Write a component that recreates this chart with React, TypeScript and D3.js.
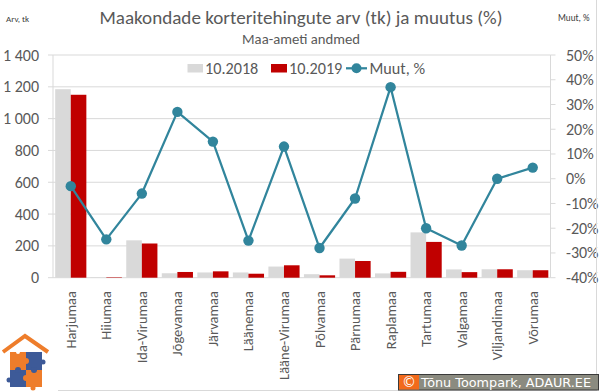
import React from "react";
import { scaleBand, scaleLinear, line, range } from "d3";

// counties (maakonnad)
const categories = [
  "Harjumaa", "Hiiumaa", "Ida-Virumaa", "Jõgevamaa", "Järvamaa", "Läänemaa",
  "Lääne-Virumaa", "Põlvamaa", "Pärnumaa", "Raplamaa", "Tartumaa", "Valgamaa",
  "Viljandimaa", "Võrumaa",
];
// transactions, pcs
const values2018 = [1185, 4, 235, 28, 33, 33, 70, 22, 120, 27, 285, 52, 53, 47];
const values2019 = [1150, 3, 215, 36, 40, 25, 78, 15, 105, 37, 225, 35, 53, 47];
// change, %
const changePct = [-3, -24.5, -6, 27, 15, -25, 13, -28, -8, 37, -20, -27, 0, 4.5];

const leftTicks = [0, 200, 400, 600, 800, 1000, 1200, 1400];
const rightTicks = range(-40, 51, 10);
const seriesNames = ["10.2018", "10.2019", "Muut, %"];

const W = 600;
const H = 392;
const plot = { left: 53, right: 550.5, top: 55, bottom: 277.7 };

const GRAY = "#d9d9d9";
const RED = "#c00000";
const TEAL = "#31859c";
const TXT = "#595959";
const FONT = "Calibri, Carlito, 'Liberation Sans', Arial, sans-serif";

const fmtLeft = (v: number) =>
  v >= 1000 ? `${Math.floor(v / 1000)} ${String(v % 1000).padStart(3, "0")}` : `${v}`;

export default function App() {
  const x = scaleBand<string>().domain(categories).range([plot.left, plot.right]);
  const x1 = scaleBand<string>()
    .domain(["a", "b"])
    .range([0, x.bandwidth()])
    .paddingOuter(0.14);
  const yL = scaleLinear().domain([0, 1400]).range([plot.bottom, plot.top]);
  const yR = scaleLinear().domain([-40, 50]).range([plot.bottom, plot.top]);

  const cx = (c: string) => (x(c) as number) + x.bandwidth() / 2;
  const pts = categories.map((c, i) => [cx(c), yR(changePct[i])] as [number, number]);
  const path = line()(pts) || "";

  return (
    <svg width={W} height={H} style={{ position: "absolute", left: 0, top: 0 }} fontFamily={FONT}>
      <rect x={0} y={0} width={W} height={H} fill="#fff" />

      {/* titles */}
      <text x={301} y={24} textAnchor="middle" fontSize={19.1} fill={TXT}>
        Maakondade korteritehingute arv (tk) ja muutus (%)
      </text>
      <text x={301} y={44} textAnchor="middle" fontSize={14.7} fill={TXT}>
        Maa-ameti andmed
      </text>
      <text x={6} y={22} fontSize={9} fill="#404040">Arv, tk</text>
      <text x={558} y={20.5} fontSize={9.2} fill="#404040">Muut, %</text>

      {/* gridlines + left axis */}
      {leftTicks.map((t) => (
        <g key={t}>
          <line x1={plot.left - 5} x2={plot.right} y1={yL(t)} y2={yL(t)} stroke={GRAY} strokeWidth={1} />
          <text x={39} y={yL(t) + 5.5} textAnchor="end" fontSize={16} fill={TXT}>
            {fmtLeft(t)}
          </text>
        </g>
      ))}
      <line x1={plot.left} x2={plot.left} y1={plot.top} y2={plot.bottom} stroke={GRAY} />
      <line x1={plot.right} x2={plot.right} y1={plot.top} y2={plot.bottom} stroke={GRAY} />

      {/* right axis */}
      {rightTicks.map((t) => (
        <g key={t}>
          <line x1={plot.right} x2={plot.right + 5} y1={yR(t)} y2={yR(t)} stroke={GRAY} />
          <text x={566} y={yR(t) + 5.5} fontSize={16} fill={TXT}>
            {`${t}%`}
          </text>
        </g>
      ))}

      {/* bars */}
      {categories.map((c, i) => (
        <g key={c}>
          <rect
            x={(x(c) as number) + (x1("a") as number)}
            y={yL(values2018[i])}
            width={x1.bandwidth()}
            height={plot.bottom - yL(values2018[i])}
            fill={GRAY}
          />
          <rect
            x={(x(c) as number) + (x1("b") as number)}
            y={yL(values2019[i])}
            width={x1.bandwidth()}
            height={plot.bottom - yL(values2019[i])}
            fill={RED}
          />
        </g>
      ))}

      {/* change line */}
      <path d={path} fill="none" stroke={TEAL} strokeWidth={2.25} strokeLinejoin="round" />
      {pts.map((p, i) => (
        <circle key={i} cx={p[0]} cy={p[1]} r={5.2} fill={TEAL} />
      ))}

      {/* category labels */}
      {categories.map((c) => (
        <text
          key={c}
          transform={`translate(${cx(c)},291) rotate(-90)`}
          textAnchor="end"
          dominantBaseline="central"
          fontSize={14.5}
          fill={TXT}
        >
          {c}
        </text>
      ))}

      {/* legend */}
      <rect x={187.5} y={64} width={15.5} height={8.5} fill={GRAY} />
      <text x={205} y={73.5} fontSize={16.2} fill={TXT}>{seriesNames[0]}</text>
      <rect x={271} y={64} width={16} height={8.5} fill={RED} />
      <text x={289} y={73.5} fontSize={16.2} fill={TXT}>{seriesNames[1]}</text>
      <line x1={346} x2={367} y1={68.3} y2={68.3} stroke={TEAL} strokeWidth={2.25} />
      <circle cx={356.5} cy={68.3} r={5} fill={TEAL} />
      <text x={369.5} y={73.5} fontSize={16.2} fill={TXT}>{seriesNames[2]}</text>

      {/* chart frame edges */}
      <line x1={596.5} x2={596.5} y1={0} y2={391} stroke={GRAY} />
      <line x1={0} x2={596.5} y1={390.5} y2={390.5} stroke={GRAY} />

      {/* logo */}
      <g>
        <rect x={0} y={331} width={58} height={61} fill="#fff" />
        <polyline points="3,352 25,336 48,352" fill="none" stroke="#ee7d2b" strokeWidth={4} />
        <rect x={10} y={352} width={16} height={18} fill="#ee7d2b" />
        <rect x={26} y={352} width={16} height={18} fill="#3d5a98" />
        <rect x={10} y={370} width={16} height={17} fill="#3d5a98" />
        <rect x={26} y={370} width={16} height={17} fill="#ee7d2b" />
        <circle cx={26} cy={361} r={3} fill="#ee7d2b" />
        <circle cx={18} cy={370} r={3} fill="#3d5a98" />
        <circle cx={34} cy={370} r={3} fill="#3d5a98" />
        <circle cx={26} cy={378} r={3} fill="#ee7d2b" />
        <circle cx={43} cy={362} r={2.5} fill="#3d5a98" />
        <circle cx={9} cy={380} r={2.5} fill="#3d5a98" />
        <circle cx={33} cy={388} r={2.5} fill="#ee7d2b" />
        <circle cx={18} cy={352} r={2} fill="#fff" />
      </g>

      {/* copyright badge */}
      <rect x={398.5} y={374.5} width={200} height={15.5} fill="#8b8b80" stroke="#3a3a3a" strokeWidth={1} />
      <rect x={399} y={375} width={20} height={14.5} fill="#f26a1b" />
      <text x={409} y={387} textAnchor="middle" fontSize={14} fill="#fff" fontFamily="'DejaVu Sans', sans-serif">
        ©
      </text>
      <text x={421} y={387} fontSize={12.8} fill="#fff" fontFamily="'DejaVu Sans', sans-serif">
        Tõnu Toompark, ADAUR.EE
      </text>
    </svg>
  );
}
